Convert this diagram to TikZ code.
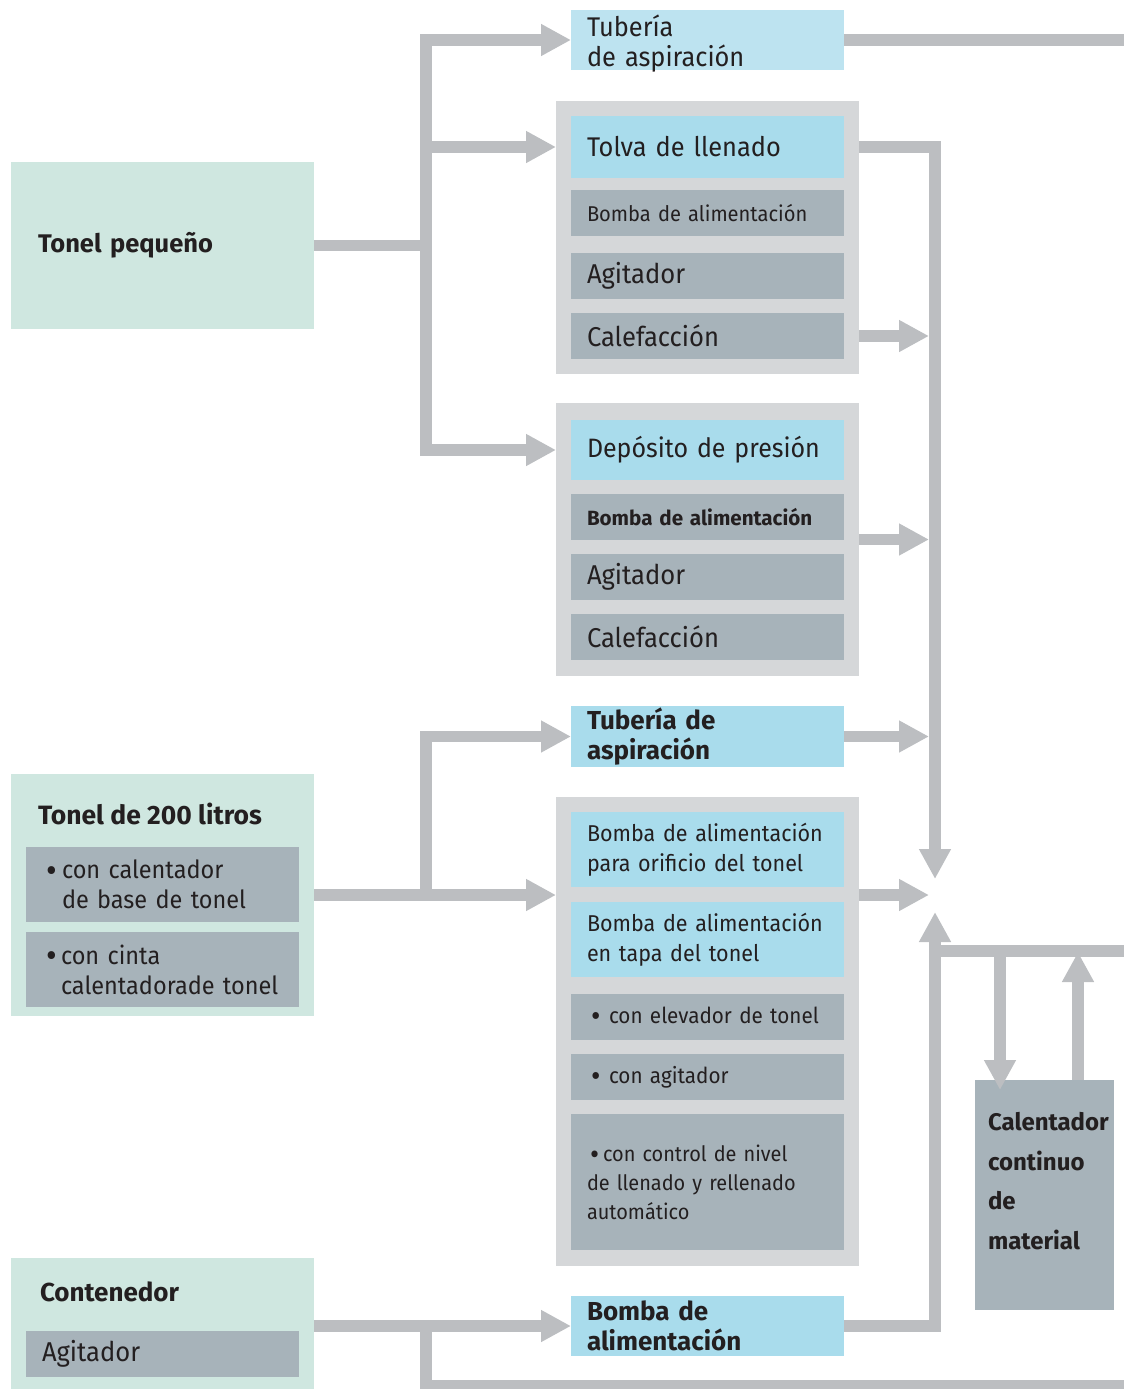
\documentclass[tikz,border=0pt]{standalone}
\usepackage{fontspec}
\setmainfont{Fira Sans}
\newfontfamily\reg{Fira Sans}[FakeStretch=0.94, WordSpace=0.55]
\usetikzlibrary{arrows.meta}

\definecolor{pipec}{HTML}{BCBEC1}
\definecolor{groupc}{HTML}{D5D7D9}
\definecolor{bluec}{HTML}{A9DCEC}
\definecolor{paleblue}{HTML}{BDE3F0}
\definecolor{slatec}{HTML}{A7B3BA}
\definecolor{mintc}{HTML}{CFE7E0}
\definecolor{txt}{HTML}{231F20}

\newcommand{\fs}[2]{\fontsize{#1}{#2}\selectfont}
\newcommand{\dotmark}[1]{\makebox[#1][l]{\raisebox{-0.14em}{\scalebox{1.4}{•}}}}

\begin{document}
\begin{tikzpicture}[x=1pt,y=-1pt,
  every node/.style={inner sep=0pt, outer sep=0pt, anchor=north west, align=left, text=txt},
  item/.style={inner xsep=16pt, text width=241pt, minimum height=#1},
  item/.default=46pt,
  blueitem/.style={item=#1, fill=bluec},
  slateitem/.style={item=#1, fill=slatec},
  group/.style={fill=groupc, minimum width=303pt, minimum height=#1},
  source/.style={fill=mintc, minimum width=303pt, minimum height=#1},
  pipe/.style={draw=pipec, line width=11.5pt},
  tip/.style={-{Triangle[length=30pt,width=30pt]}}]
  \useasboundingbox (0,0) rectangle (1124,1389);

  % sources on the left
  \node[source=167pt, inner xsep=27pt, text width=249pt, font=\bfseries\fs{25.5}{30}] (peq) at (11,162) {Tonel pequeño};
  \node[source=242pt] (t200) at (11,774) {};
  \node[anchor=west, font=\bfseries\fs{26.5}{30}] (t200t) at (38,814) {Tonel de 200 litros};
  \node[slateitem=75pt, font=\reg\fs{25}{30}] (s1) at (26,847) {\hspace*{4pt}\dotmark{16pt}con calentador\\\hspace*{20pt}de base de tonel};
  \node[slateitem=75pt, font=\reg\fs{25}{30}] (s2) at (26,932) {\hspace*{4pt}\dotmark{15pt}con cinta\\\hspace*{19pt}calentadorade tonel};
  \node[source=131pt] (cont) at (11,1258) {};
  \node[anchor=west, font=\bfseries\fs{26}{30}] (contt) at (40,1292) {Contenedor};
  \node[slateitem, font=\reg\fs{27.2}{30}] (agit4) at (26,1331) {Agitador};

  % middle column
  \node[item=60pt, fill=paleblue, font=\reg\fs{27}{30}] (tubA) at (571,10) {\rule{0pt}{23pt}Tubería\\\smash{de aspiración}};
  \node[group=273pt] (c1) at (556,101) {};
  \node[blueitem=62pt, font=\reg\fs{27}{30}] (tolva) at (571,116) {Tolva de llenado};
  \node[slateitem, font=\reg\fs{21.4}{28}] (bomba1) at (571,190) {Bomba de alimentación};
  \node[slateitem, font=\reg\fs{27.2}{30}] (agit1) at (571,253) {Agitador};
  \node[slateitem, font=\reg\fs{27.2}{30}] (calef1) at (571,313) {Calefacción};
  \node[group=273pt] (c2) at (556,403) {};
  \node[blueitem=60pt, font=\reg\fs{26.6}{30}] (depo) at (571,420) {Depósito de presión};
  \node[slateitem, font=\bfseries\fs{20.6}{28}] (bomba2) at (571,494) {Bomba de alimentación};
  \node[slateitem, font=\reg\fs{27.2}{30}] (agit2) at (571,554) {Agitador};
  \node[slateitem, font=\reg\fs{27.2}{30}] (calef2) at (571,614) {Calefacción};
  \node[blueitem=61pt, font=\bfseries\fs{26}{30}] (tubB) at (571,706) {Tubería de\\aspiración};
  \node[group=469pt] (c3) at (556,797) {};
  \node[blueitem=75pt, font=\reg\fs{22.9}{30}] (orif) at (571,812) {Bomba de alimentación\\para orificio del tonel};
  \node[blueitem=75pt, font=\reg\fs{22.9}{30}] (tapa) at (571,902) {Bomba de alimentación\\en tapa del tonel};
  \node[slateitem, font=\reg\fs{22}{29}] (elev) at (571,994) {\hspace*{4pt}\dotmark{18pt}con elevador de tonel};
  \node[slateitem, font=\reg\fs{22}{29}] (agit3) at (571,1054) {\hspace*{4pt}\dotmark{18pt}con agitador};
  \node[slateitem=136pt, font=\reg\fs{21.2}{29}] (nivel) at (571,1114) {\hspace*{3pt}\dotmark{13pt}con control de nivel\\de llenado y rellenado\\automático};
  \node[blueitem=60pt, font=\bfseries\fs{26}{30}] (bombaC) at (571,1296) {Bomba de\\alimentación};

  % heater on the right
  \node[fill=slatec, minimum width=139pt, minimum height=230pt] (cal) at (975,1080) {};
  \node[anchor=west, font=\bfseries\fs{24}{39.5}] (calt) at (988,1181) {Calentador\\continuo\\de\\material};

  \coordinate (jA) at (426,245.5);
  \coordinate (jB) at (935,895);
  \coordinate (outA) at (1124,40);
  \coordinate (outB) at (1124,951);
  \coordinate (outC) at (1124,1386);

  % pipes from the small barrel
  \draw[pipe,tip] (peq.east) -| (426,40) -- (tubA.west |- outA);
  \draw[pipe,tip] (jA |- tolva.west) -- (c1.west |- tolva.west);
  \draw[pipe,tip] (jA) |- (c2.west |- depo.west);
  \draw[pipe] (tubA.east |- outA) -- (outA);

  % pipes from the 200 litre barrel and the container
  \draw[pipe,tip] (t200.east) -- (c3.west |- t200.east);
  \draw[pipe,tip] (426,895) |- (tubB.west);
  \draw[pipe,tip] (cont.east |- bombaC.west) -- (bombaC.west);
  \draw[pipe] (426,1326) |- (outC);

  % collecting line
  \draw[pipe,tip] (c1.east |- tolva.east) -| (935,879);
  \draw[pipe,tip] (c1.east |- calef1.east) -- ++(70pt,0);
  \draw[pipe,tip] (c2.east) -- ++(70pt,0);
  \draw[pipe,tip] (tubB.east) -- ++(85pt,0);
  \draw[pipe,tip] (c3.east |- jB) -- ++(70pt,0);
  \draw[pipe,tip] (bombaC.east) -| (935,912);
  \draw[pipe] (935,951) -- (outB);
  \draw[pipe,tip] (1000,951) -- (1000,1090);
  \draw[pipe,tip] (cal.north -| 1078,0) -- (1078,952);
\end{tikzpicture}
\end{document}
